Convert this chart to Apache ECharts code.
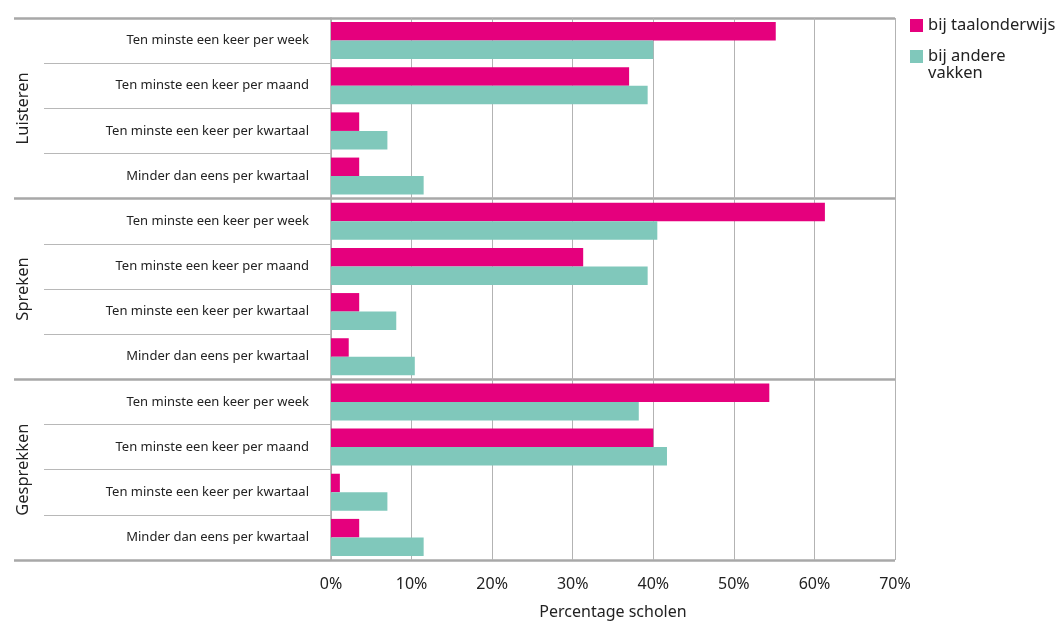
<!DOCTYPE html>
<html><head><meta charset="utf-8">
<script src="https://cdn.jsdelivr.net/npm/echarts@6/dist/echarts.min.js"></script>
<style>html,body{margin:0;padding:0;background:#fff}#c{width:1061px;height:622px}</style>
</head><body><div id="c"></div>
<script>
const groups = ['Luisteren', 'Spreken', 'Gesprekken'];
const frequencies = ['Ten minste een keer per week', 'Ten minste een keer per maand', 'Ten minste een keer per kwartaal', 'Minder dan eens per kwartaal'];
const seriesNames = ['bij taalonderwijs', 'bij andere vakken'];
const taalonderwijs = [55.2, 37.0, 3.5, 3.5, 61.3, 31.3, 3.5, 2.2, 54.4, 40.0, 1.1, 3.5];
const andereVakken = [40.0, 39.3, 7.0, 11.5, 40.5, 39.3, 8.1, 10.4, 38.2, 41.7, 7.0, 11.5];
const xTicks = [0, 10, 20, 30, 40, 50, 60, 70];

const categories = [];
groups.forEach(() => frequencies.forEach(f => categories.push(f)));

const FONT = 'Noto Sans';
const legendText = {fontFamily: FONT, fontSize: 16.5, color: '#222', lineHeight: 17};
const chart = echarts.init(document.getElementById('c'), null, {renderer: 'canvas'});
chart.setOption({
  animation: false,
  textStyle: {fontFamily: FONT},
  grid: {left: 331, right: 166, top: 18, bottom: 62, containLabel: false, outerBoundsMode: 'none'},
  legend: [
    {
      orient: 'vertical', left: 910, top: 17, padding: 0, itemWidth: 13, itemHeight: 13,
      icon: 'rect', textStyle: legendText,
      data: [seriesNames[0]]
    },
    {
      orient: 'vertical', left: 910, top: 31, padding: 0, itemWidth: 13, itemHeight: 13,
      icon: 'rect', textStyle: legendText,
      formatter: n => '\n' + n.replace(' vakken', '\nvakken'),
      data: [seriesNames[1]]
    }
  ],
  xAxis: {
    type: 'value', min: xTicks[0], max: xTicks[xTicks.length - 1], interval: 10,
    axisLine: {show: false}, axisTick: {show: false},
    axisLabel: {formatter: '{value}%', fontSize: 16, color: '#222', margin: 16},
    splitLine: {show: true, lineStyle: {color: '#b3b3b3', width: 1}},
    name: 'Percentage scholen', nameLocation: 'middle', nameGap: 44,
    nameTextStyle: {fontSize: 16, color: '#222'}
  },
  yAxis: [
    {
      type: 'category', data: categories, inverse: true,
      axisLine: {show: true, lineStyle: {color: '#a8a8a8', width: 1.5}},
      axisTick: {show: true, length: 287, lineStyle: {color: '#b8b8b8', width: 1}},
      axisLabel: {fontSize: 13, color: '#222', margin: 22},
      splitLine: {show: false}
    },
    {
      type: 'category', data: groups, inverse: true, position: 'left',
      axisLine: {show: false},
      axisTick: {show: true, length: 317, lineStyle: {color: '#a8a8a8', width: 2.5}},
      axisLabel: {fontSize: 16.5, color: '#222', rotate: 90, margin: 299},
      splitLine: {show: true, lineStyle: {color: '#a8a8a8', width: 2.5}}
    }
  ],
  series: [
    {name: seriesNames[0], type: 'bar', data: taalonderwijs, yAxisIndex: 0,
     itemStyle: {color: '#e5007d'}, barGap: '0%', barCategoryGap: '18%'},
    {name: seriesNames[1], type: 'bar', data: andereVakken, yAxisIndex: 0,
     itemStyle: {color: '#80c8bb'}, barGap: '0%', barCategoryGap: '18%'}
  ]
});
</script></body></html>
